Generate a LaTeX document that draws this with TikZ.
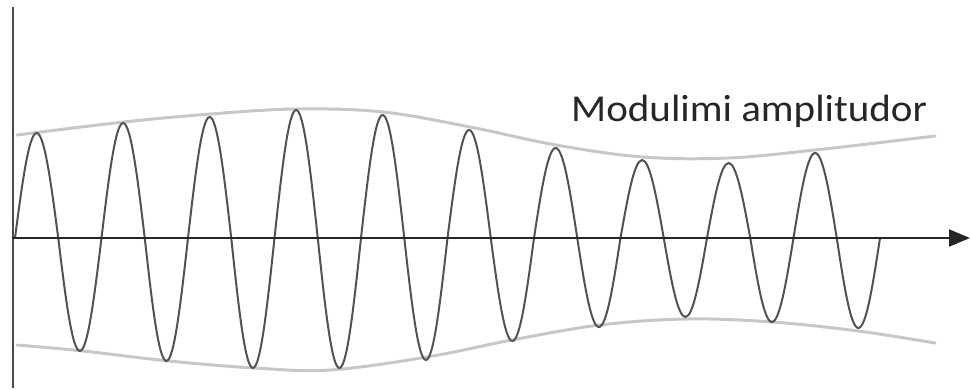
\documentclass[tikz,border=0pt]{standalone}
\usepackage{fontspec}
\setmainfont{Carlito}
\newfontfamily\lblfont[FakeStretch=1.08]{Carlito}
\usetikzlibrary{arrows.meta}
\tikzset{
  axisline/.style={line width=2pt, draw=black!85},
  vaxis/.style={line width=2.6pt, draw=black!70},
  wave/.style={line width=2pt, draw=black!68},
  envelope/.style={line width=3pt, draw=black!22, line cap=round},
  label/.style={font=\lblfont\fontsize{38}{44}\selectfont, text=black!85, inner sep=0pt}
}
\begin{document}
\begin{tikzpicture}[x=1pt,y=-1pt]
\useasboundingbox (0,0) rectangle (971,390);
% envelopes
\draw[envelope] plot[smooth, tension=0.6] coordinates {(17,135) (124,122) (211,114) (297,109) (383,112) (470,127) (556,145) (643,157) (728,158) (815,150) (935,136)};
\draw[envelope] plot[smooth, tension=0.6] coordinates {(17,345) (83,351) (169,361) (255,368) (330,370) (427,357) (512,340) (600,325) (687,319) (772,322) (858,331) (935,343)};
% axes
\coordinate (vtop) at (13,7);
\coordinate (vbot) at (13,388);
\coordinate (hstart) at (12,238);
\coordinate (hend) at (970,238);
\draw[vaxis] (vtop) -- (vbot);
% wave
\coordinate (w0) at (15,238);
\draw[wave] (w0) \foreach \a/\b in {105/113, 115/123, 121/130, 128/130, 123/122, 108/103, 90/89, 78/79, 75/84, 85/90}{
  sin ++(21.625,-\a) cos ++(21.625,\a) sin ++(21.625,\b) cos ++(21.625,-\b)};
\draw[axisline, -{Triangle[length=21pt,width=17pt]}] (hstart) -- (hend);
% label
\node[label, anchor=base west] (lbl) at (571,122) {Modulimi amplitudor};
\end{tikzpicture}
\end{document}
